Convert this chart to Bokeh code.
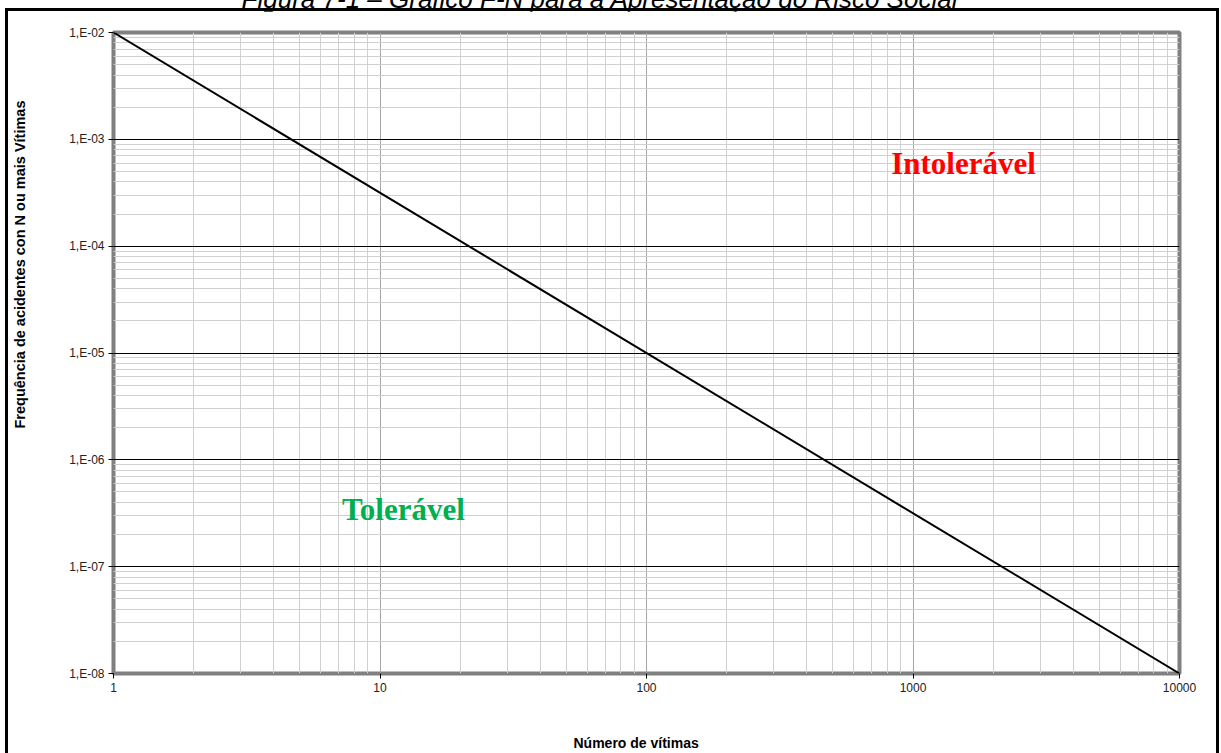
from bokeh.plotting import figure
from bokeh.models import (CustomJSTickFormatter, FixedTicker, Title, Div,
                          ColumnDataSource, LinearAxis)
from bokeh.layouts import column
from bokeh.core.properties import value
from bokeh.embed import file_html
from bokeh.resources import INLINE

# ---- data ----
title_text = "Figura 7-1 – Gráfico F-N para a Apresentação do Risco Social"
n_vitimas = [1, 10000]
frequencia = [1e-2, 1e-8]
x_ticks = [1, 10, 100, 1000, 10000]
x_tick_labels = ["1", "10", "100", "1000", "10000"]
y_ticks = [1e-8, 1e-7, 1e-6, 1e-5, 1e-4, 1e-3, 1e-2]
y_tick_labels = ["1,E-08", "1,E-07", "1,E-06", "1,E-05", "1,E-04", "1,E-03", "1,E-02"]
region_labels = ["Intolerável", "Tolerável"]
region_x = [828, 7.2]
region_y = [6.0e-4, 3.46e-7]
region_colors = ["#FF0000", "#00B050"]
x_label = "Número de vítimas"
y_label = "Frequência de acidentes  con N ou mais Vítimas"

# minor ticks 2..9 within each decade (grid helpers)
x_minor = [m * 10 ** k for k in range(4) for m in range(2, 10)]
y_minor = [m * 10.0 ** k for k in range(-8, -2) for m in range(2, 10)]

p = figure(width=1208, height=742, x_axis_type="log", y_axis_type="log",
           x_range=(1, 10000), y_range=(1e-8, 1e-2),
           output_backend="svg", toolbar_location=None,
           min_border_left=105, min_border_right=43,
           min_border_top=21, min_border_bottom=83,
           background_fill_color="white", border_fill_color="white")

p.outline_line_color = "#808080"
p.outline_line_width = 4

p.xaxis.ticker = FixedTicker(ticks=x_ticks, minor_ticks=x_minor)
p.yaxis.ticker = FixedTicker(ticks=y_ticks, minor_ticks=y_minor)

fmt_code = """
let best = 0; let bd = Infinity;
for (let i = 0; i < tvals.length; i++) {
  const d = Math.abs(Math.log10(tick) - Math.log10(tvals[i]));
  if (d < bd) { bd = d; best = i; }
}
return tlabels[best];
"""
p.xaxis.formatter = CustomJSTickFormatter(args=dict(tvals=x_ticks, tlabels=x_tick_labels), code=fmt_code)
p.yaxis.formatter = CustomJSTickFormatter(args=dict(tvals=y_ticks, tlabels=y_tick_labels), code=fmt_code)

for ax in (p.xaxis, p.yaxis):
    ax.axis_line_color = None
    ax.major_tick_out = 5
    ax.major_tick_in = 0
    ax.minor_tick_out = 0
    ax.minor_tick_in = 0
    ax.major_tick_line_color = "black"
    ax.major_label_text_font = "Liberation Sans"
    ax.major_label_text_font_size = "12px"
    ax.major_label_text_color = "#222222"
    ax.major_label_standoff = 4


def spacer_axis(size, tick):
    # invisible axis used only to reserve space between the tick labels and the axis title
    return LinearAxis(ticker=FixedTicker(ticks=[tick]), axis_line_color=None,
                      formatter=CustomJSTickFormatter(code="return ''"),
                      major_label_standoff=0,
                      major_tick_out=size, major_tick_in=0, major_tick_line_color=None,
                      minor_tick_out=0, minor_tick_in=0, minor_tick_line_color=None)


p.add_layout(spacer_axis(38, 100), "below")
p.add_layout(Title(text=x_label, align="left", offset=460, standoff=0,
                   vertical_align="bottom",
                   text_font="Liberation Sans", text_font_style="bold",
                   text_font_size="14px", text_color="black"), "below")
p.add_layout(spacer_axis(39, 1e-5), "left")
p.add_layout(Title(text=y_label, align="left", offset=245, standoff=0,
                   vertical_align="bottom",
                   text_font="Liberation Sans", text_font_style="bold",
                   text_font_size="14.5px", text_color="black"), "left")

p.xgrid.grid_line_color = "#a6a6a6"
p.xgrid.minor_grid_line_color = "#d0d0d0"
p.ygrid.grid_line_color = "#000000"
p.ygrid.minor_grid_line_color = "#d0d0d0"

p.line(n_vitimas, frequencia, line_color="black", line_width=2)

src = ColumnDataSource(dict(x=region_x, y=region_y, t=region_labels, c=region_colors))
p.text(x="x", y="y", text="t", text_color="c", source=src,
       text_font=value("Liberation Serif"), text_font_style="bold",
       text_font_size="31px", text_baseline="middle", text_align="left")

p.styles = {"border-left": "3px solid black", "border-top": "3px solid black",
            "border-right": "3px solid black", "margin-left": "5px",
            "box-sizing": "content-box"}

title_div = Div(text=title_text, width=1189, height=20,
                styles={"margin-top": "-17px", "padding-top": "3px",
                        "font-family": "Liberation Sans",
                        "font-style": "italic", "font-size": "26px",
                        "line-height": "26px", "text-align": "center",
                        "overflow": "visible", "white-space": "nowrap"})

layout = column(title_div, p)
open("out.html", "w").write(file_html(layout, INLINE))
